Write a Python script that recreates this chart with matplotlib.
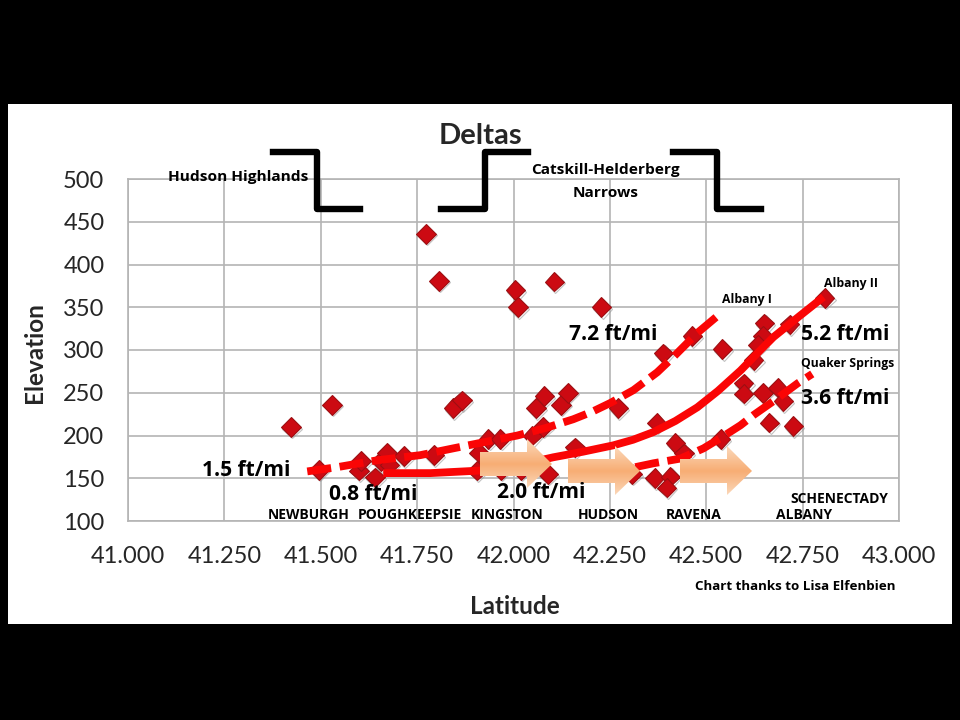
import numpy as np
import matplotlib
matplotlib.use('Agg')
import matplotlib.pyplot as plt
import matplotlib.patheffects as pe
from matplotlib.patches import Rectangle, Polygon

plt.rcParams['font.family'] = ['Lato', 'DejaVu Sans']

# scatter points
lat = [41.423, 41.496, 41.530, 41.600, 41.605, 41.640, 41.655, 41.672, 41.678, 41.716,
       41.794, 41.773, 41.807, 41.844, 41.867, 41.910, 41.906, 41.935, 41.966, 41.968,
       42.005, 42.012, 42.106, 42.228, 42.049, 42.059, 42.080, 42.077, 42.090, 42.124,
       42.142, 42.160, 42.272, 42.389, 42.464, 42.542, 42.371, 42.420, 42.443, 42.366,
       42.407, 42.397, 42.537, 42.651, 42.648, 42.635, 42.623, 42.597, 42.597, 42.648,
       42.685, 42.700, 42.664, 42.726, 42.716, 42.807, 42.308, 42.020]
elev = [210, 160, 236, 159, 170, 151, 170, 180, 166, 176,
        177, 436, 381, 232, 241, 180, 159, 196, 196, 160,
        370, 350, 380, 350, 200, 232, 246, 210, 155, 236,
        250, 186, 232, 296, 316, 301, 215, 191, 179, 150,
        152, 139, 196, 331, 316, 306, 288, 261, 249, 250,
        256, 240, 215, 211, 330, 361, 155, 160]

# trend lines
solid_x = [41.662, 41.784, 41.914, 42.010, 42.103, 42.180, 42.259, 42.310, 42.363, 42.420,
           42.477, 42.530, 42.589, 42.630, 42.674, 42.740, 42.804]
solid_y = [156, 156, 159, 165, 174.5, 181, 188.5, 195, 204, 217,
           233, 252, 276, 295, 315, 339, 362]
upper_x = [41.465, 41.543, 41.646, 41.758, 41.844, 42.010, 42.085, 42.155, 42.205, 42.251,
           42.311, 42.373, 42.415, 42.477, 42.535]
upper_y = [158, 163, 171, 177, 185, 200, 209, 219, 228, 238,
           253, 274, 292, 320, 342]
lower_x = [42.316, 42.363, 42.433, 42.493, 42.537, 42.589, 42.623, 42.680, 42.737, 42.775]
lower_y = [163, 167.5, 173, 185, 197, 212, 224, 242, 261, 272]

xticks = [41.0, 41.25, 41.5, 41.75, 42.0, 42.25, 42.5, 42.75, 43.0]
yticks = [100, 150, 200, 250, 300, 350, 400, 450, 500]

# px labels: text, x, y, size
labels = [
    ('Hudson Highlands', 238, 177, 11.1),
    ('Catskill-Helderberg', 605, 170, 11.1),
    ('Narrows', 606, 193, 11.1),
    ('Albany II', 851, 283, 8.8),
    ('Albany I', 747, 299, 8.8),
    ('Quaker Springs', 848, 363, 8.7),
    ('7.2 ft/mi', 613, 335, 15.1),
    ('5.2 ft/mi', 845, 335, 15.1),
    ('3.6 ft/mi', 845, 398, 15.1),
    ('1.5 ft/mi', 246, 471, 15.1),
    ('0.8 ft/mi', 373, 494, 15.1),
    ('2.0 ft/mi', 541, 493, 15.1),
    ('NEWBURGH', 309, 515, 10),
    ('POUGHKEEPSIE', 410, 515, 10),
    ('KINGSTON', 507, 515, 10),
    ('HUDSON', 608, 515, 10),
    ('RAVENA', 694, 515, 10),
    ('ALBANY', 804, 515, 10),
    ('SCHENECTADY', 839, 499, 10),
    ('Chart thanks to Lisa Elfenbien', 795, 587, 9.6),
]

W, H = 960, 720
fig = plt.figure(figsize=(9.6, 7.2), dpi=100, facecolor='black')
fig.add_artist(Rectangle((8 / W, 1 - 624 / H), 944 / W, 520 / H, transform=fig.transFigure,
                         facecolor='white', edgecolor='none', zorder=-5))

ax = fig.add_axes([128 / W, 1 - 521 / H, 771 / W, 342 / H], facecolor='white')
ax.set_xlim(41, 43)
ax.set_ylim(100, 500)
ax.set_xticks(xticks)
ax.set_xticklabels(['%.3f' % t for t in xticks])
ax.set_yticks(yticks)
ax.grid(True, color='#b4b4b4', linewidth=1.2)
ax.set_axisbelow(True)
ax.tick_params(length=0, labelsize=17, colors='#262626')
ax.tick_params(axis='x', pad=18)
ax.tick_params(axis='y', pad=17)
for s in ax.spines.values():
    s.set_color('#b4b4b4')
    s.set_linewidth(1.2)

ax.plot(lat, elev, linestyle='none', marker='D', markersize=10, markerfacecolor='#cc0a12',
        markeredgecolor='#9c0f12', markeredgewidth=0.8, zorder=3,
        path_effects=[pe.SimpleLineShadow(offset=(0.8, -1.2), shadow_color='#999999', alpha=0.6), pe.Normal()])
ax.plot(solid_x, solid_y, color='#fa0505', linewidth=5.6, zorder=4, solid_capstyle='butt')
ax.plot(upper_x, upper_y, color='#fa0505', linewidth=5.6, zorder=4, linestyle=(0, (3.1, 1.1)), dash_capstyle='butt')
ax.plot(lower_x, lower_y, color='#fa0505', linewidth=5.6, zorder=4, linestyle=(0, (3.1, 1.1)), dash_capstyle='butt')


def fx(px):
    return px / W


def fy(py):
    return 1 - py / H


# black step brackets from the slide
for xs, ys in [([273, 317, 317, 360], [152, 152, 209, 209]),
               ([441, 485, 485, 528], [209, 209, 152, 152]),
               ([673, 717, 717, 761], [152, 152, 209, 209])]:
    fig.add_artist(plt.Line2D([fx(v) for v in xs], [fy(v) for v in ys], transform=fig.transFigure,
                              color='black', linewidth=4.6, solid_joinstyle='round', zorder=6))

# orange arrows with a vertical gradient, in px
ov = fig.add_axes([0, 0, 1, 1], facecolor='none')
ov.set_xlim(0, W)
ov.set_ylim(H, 0)
ov.axis('off')
grad = np.linspace(0, 1, 64).reshape(-1, 1)
cmap = matplotlib.colors.LinearSegmentedColormap.from_list('arr', ['#fbd9bb', '#f7ad74', '#fbd9bb'])
for x0, cy in [(480, 464), (568, 471), (680, 471)]:
    pts = [(x0, cy - 12), (x0 + 47, cy - 12), (x0 + 47, cy - 25), (x0 + 72, cy),
           (x0 + 47, cy + 24), (x0 + 47, cy + 12), (x0, cy + 12)]
    im = ov.imshow(grad, extent=(x0, x0 + 72, cy + 25, cy - 25), cmap=cmap, aspect='auto', zorder=5)
    im.set_clip_path(Polygon(pts, closed=True, transform=ov.transData))
ov.set_xlim(0, W)
ov.set_ylim(H, 0)

for text, x, y, size in labels:
    ov.text(x, y, text, fontsize=size, fontweight='bold', family=['Open Sans', 'DejaVu Sans'],
            ha='center', va='center', color='black', zorder=7)

ov.text(480, 136, 'Deltas', fontsize=21, fontweight='bold', ha='center', va='center', color='#262626', zorder=7)
ov.text(515, 607, 'Latitude', fontsize=17.5, fontweight='bold', ha='center', va='center', color='#262626', zorder=7)
ov.text(34, 353, 'Elevation', fontsize=17.5, fontweight='bold', ha='center', va='center', rotation=90, color='#262626', zorder=7)

fig.savefig('out.png', dpi=100, facecolor='black')
